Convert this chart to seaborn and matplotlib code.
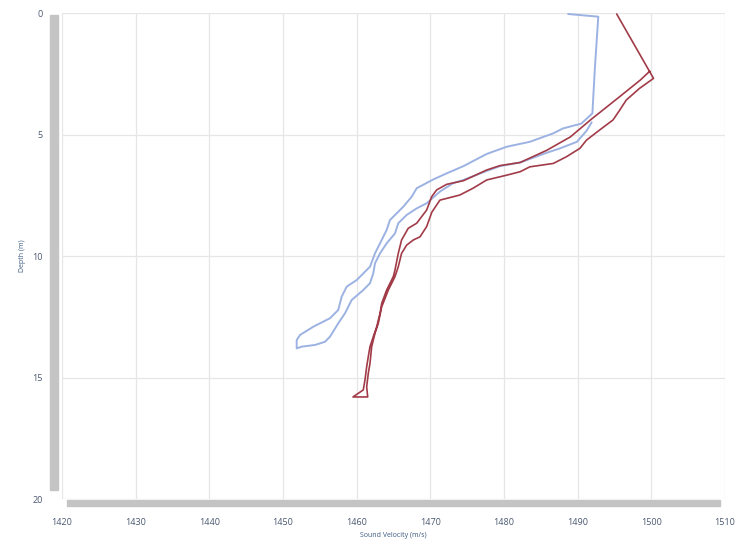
"""
Sound velocity profiles (two casts), depth increasing downward
"""

import matplotlib.pyplot as plt
import pandas as pd
import seaborn as sns
from matplotlib.patches import Rectangle

# blue cast: surface -> down the outer branch -> back up the inner branch
blue_velocity = [1488.7, 1492.8, 1492.35, 1492.0, 1490.5, 1488.0, 1486.7, 1483.5, 1480.4,
                 1477.65, 1474.5, 1472.2, 1470.4, 1468.15, 1467.47, 1466.33, 1464.52, 1464.07,
                 1463.17, 1462.49, 1461.81, 1460.0, 1458.65, 1457.97, 1457.5, 1456.38,
                 1454.11, 1452.31, 1451.86, 1451.86, 1452.54, 1454.34, 1455.7, 1456.38,
                 1457.5, 1458.41, 1458.86, 1459.32, 1460.9, 1461.81, 1462.26, 1462.49,
                 1463.17, 1464.07, 1465.2, 1465.65, 1466.79, 1468.15, 1469.5, 1471.3,
                 1473.1, 1474.5, 1477.65, 1479.45, 1482.2, 1485.8, 1487.6, 1489.9,
                 1491.2, 1491.9]
blue_depth = [0.04, 0.15, 2.21, 4.13, 4.55, 4.75, 4.95, 5.30, 5.50,
              5.80, 6.30, 6.60, 6.85, 7.21, 7.56, 7.97, 8.52, 8.93,
              9.48, 9.89, 10.44, 10.99, 11.26, 11.67, 12.22, 12.56,
              12.91, 13.25, 13.46, 13.80, 13.73, 13.66, 13.53, 13.32,
              12.77, 12.36, 12.09, 11.81, 11.40, 11.12, 10.71, 10.30,
              9.89, 9.48, 9.07, 8.65, 8.31, 8.04, 7.83, 7.35,
              7.00, 6.87, 6.50, 6.30, 6.15, 5.75, 5.57, 5.30,
              4.85, 4.50]

# red cast: surface -> kink at 2.5 m -> down the lower branch -> back up the upper branch
red_velocity = [1495.3, 1500.3, 1498.4, 1496.6, 1495.7, 1494.8, 1493.0, 1491.2, 1490.3,
                1488.5, 1486.7, 1483.5, 1482.2, 1480.4, 1477.65, 1475.8, 1474.0, 1471.3,
                1470.2, 1469.5, 1468.6, 1467.69, 1466.79, 1466.1, 1465.65, 1465.2, 1464.3,
                1463.4, 1462.94, 1462.49, 1462.04, 1461.81, 1461.58, 1461.36, 1461.5, 1459.5,
                1460.9, 1461.13, 1461.36, 1461.58, 1461.81, 1462.26, 1462.72, 1463.17,
                1463.4, 1464.07, 1464.97, 1465.2, 1465.65, 1466.1, 1467.0, 1468.15,
                1469.5, 1470.18, 1470.86, 1472.22, 1474.5, 1477.65, 1479.45, 1482.2,
                1485.8, 1489.0, 1491.9, 1495.3, 1498.5, 1499.8]
red_depth = [0.04, 2.69, 3.10, 3.58, 4.00, 4.40, 4.81, 5.23, 5.57,
             5.91, 6.19, 6.33, 6.53, 6.67, 6.87, 7.21, 7.49, 7.70,
             8.20, 8.79, 9.21, 9.34, 9.55, 9.89, 10.44, 10.85, 11.40,
             12.09, 12.77, 13.18, 13.73, 14.42, 14.83, 15.38, 15.80, 15.80,
             15.51, 15.10, 14.56, 14.14, 13.73, 13.32, 12.91, 12.36,
             11.95, 11.40, 10.85, 10.58, 9.89, 9.34, 8.86, 8.65,
             8.11, 7.56, 7.28, 7.05, 6.90, 6.46, 6.28, 6.15,
             5.65, 5.10, 4.36, 3.54, 2.76, 2.39]

x_ticks = [1420, 1430, 1440, 1450, 1460, 1470, 1480, 1490, 1500, 1510]
y_ticks = [0, 5, 10, 15, 20]

sns.set_style('whitegrid')
plt.rcParams['font.family'] = ['Open Sans', 'DejaVu Sans']

fig = plt.figure(figsize=(7.37, 5.43), dpi=100)
ax = fig.add_axes([0.0841, 0.081, 0.8996, 0.895])

sns.lineplot(x=blue_velocity, y=blue_depth, sort=False, estimator=None,
             color='#9cb2e2', linewidth=1.4, ax=ax)
sns.lineplot(x=red_velocity, y=red_depth, sort=False, estimator=None,
             color='#a23b48', linewidth=1.2, ax=ax)

ax.set_xlim(1420, 1510)
ax.set_ylim(20, 0)
ax.set_xticks(x_ticks)
ax.set_yticks(y_ticks)
ax.grid(True, color='#e6e6e6', linewidth=0.9)
for s in ax.spines.values():
    s.set_visible(False)

ax.tick_params(axis='both', labelsize=6.5, labelcolor='#4a5870', length=0)
ax.tick_params(axis='y', pad=14)
ax.tick_params(axis='x', pad=14)
ax.set_xlabel('Sound Velocity (m/s)', fontsize=5, color='#3c5a80', labelpad=3)
ax.set_ylabel('Depth (m)', fontsize=5, color='#3c5a80', labelpad=4)

# scroll bars drawn around the plot area (figure pixel coords / size)
W, H = 737.0, 543.0
fig.patches.append(Rectangle((50 / W, (H - 490) / H), 8 / W, 475 / H,
                             transform=fig.transFigure, color='#c4c4c4', zorder=0))
fig.patches.append(Rectangle((67 / W, (H - 506) / H), 653 / W, 6 / H,
                             transform=fig.transFigure, color='#c4c4c4', zorder=0))

fig.savefig('out.png', dpi=100)
